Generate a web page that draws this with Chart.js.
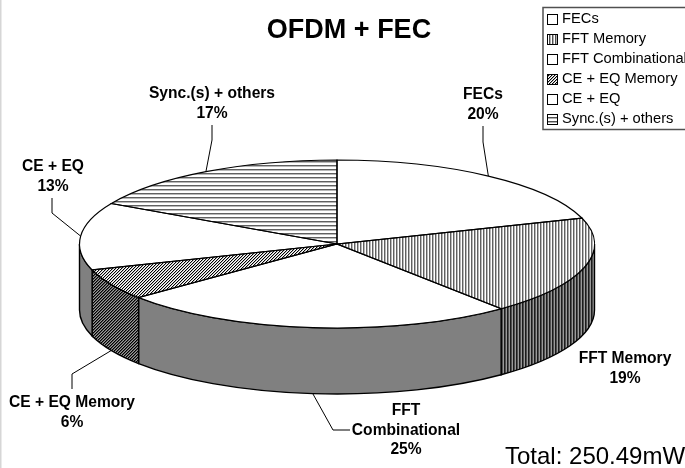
<!DOCTYPE html>
<html>
<head>
<meta charset="utf-8">
<title>OFDM + FEC</title>
<script src="https://cdn.jsdelivr.net/npm/chart.js@4/dist/chart.umd.min.js"></script>
<style>
    html, body { margin: 0; padding: 0; background: #fff; }
    #wrap { position: relative; width: 685px; height: 468px; }
</style>
</head>
<body>
<div id="wrap"><canvas id="myChart" width="685" height="468"></canvas></div>
<script>
const categorias = ["FECs", "FFT Memory", "FFT Combinational", "CE + EQ Memory", "CE + EQ", "Sync.(s) + others"];
const valores = [20, 19, 25, 6, 13, 17];
const tramas = ["none", "vertical", "none", "diagonal", "none", "horizontal"];

// text blocks around the pie: x, y of each label, and the elbow of its leader line
const etiquetas = [
    { lineas: ["FECs"], x: 483, y: 95, codo: [[483, 126], [483, 142]] },
    { lineas: ["FFT Memory"], x: 625, y: 359 },
    { lineas: ["FFT", "Combinational"], x: 406, y: 411, codo: [[350, 430], [333, 430]] },
    { lineas: ["CE + EQ Memory"], x: 72, y: 403, codo: [[72, 389], [72, 374]] },
    { lineas: ["CE + EQ"], x: 53, y: 167, codo: [[52, 198], [52, 213]] },
    { lineas: ["Sync.(s) + others"], x: 212, y: 94, codo: [[212, 125], [212, 140]] }
];

const W = 685, H = 468;
const cx = 337, cy = 244;
const radio = 257.5;
const aplastado = 84 / radio;
const alto = 66;

function crearTrama(tipo, fondo, tinta, tinta2) {
    const t = document.createElement("canvas");
    const c = t.getContext("2d");
    let lado = 3;
    if (tipo === "horizontal") lado = 4;
    t.width = lado;
    t.height = lado;
    c.fillStyle = fondo;
    c.fillRect(0, 0, lado, lado);
    c.fillStyle = tinta;
    if (tipo === "vertical") {
        c.fillRect(0, 0, 1, lado);
        c.fillStyle = tinta2;
        c.fillRect(1, 0, 1, lado);
    } else if (tipo === "horizontal") {
        c.fillRect(0, 1, lado, 1);
        c.fillStyle = tinta2;
        c.fillRect(0, 2, lado, 1);
    } else if (tipo === "diagonal") {
        c.fillStyle = "#000";
        c.fillRect(0, 2, 1, 1);
        c.fillRect(1, 1, 1, 1);
        c.fillRect(2, 0, 1, 1);
        c.fillStyle = tinta2;
        c.fillRect(0, 0, 1, 1);
        c.fillRect(1, 2, 1, 1);
        c.fillRect(2, 1, 1, 1);
    }
    return c.createPattern(t, "repeat");
}

function rellenoTapa(tipo) {
    if (tipo === "none") return "#ffffff";
    const p = crearTrama(tipo, "#ffffff", "#606060", "#b8b8b8");
    // undo the flattening so the hatch stays crisp on the page
    p.setTransform(new DOMMatrix().translate(cx, cy).scale(1, 1 / aplastado).translate(-cx, -cy));
    return p;
}

function rellenoLado(tipo) {
    if (tipo === "none") return "#808080";
    return crearTrama(tipo, "#9a9a9a", "#1c1c1c", "#505050");
}

function rellenoLeyenda(tipo) {
    if (tipo === "none") return "#ffffff";
    return crearTrama(tipo, "#ffffff", "#505050", "#b0b0b0");
}

const pie3d = {
    id: "pie3d",
    beforeDraw(chart) {
        const ctx = chart.ctx;
        ctx.fillStyle = "#d6d6d6";
        ctx.fillRect(0, 0, 1.5, H);
    },
    beforeDatasetsDraw(chart) {
        const ctx = chart.ctx;
        const arcos = chart.getDatasetMeta(0).data;
        // wall under the front half of the pie
        arcos.forEach((arco, i) => {
            const a1 = Math.max(arco.startAngle, 0);
            const a2 = Math.min(arco.endAngle, Math.PI);
            if (a2 <= a1) return;
            ctx.beginPath();
            ctx.ellipse(cx, cy, radio, radio * aplastado, 0, a1, a2);
            ctx.ellipse(cx, cy + alto, radio, radio * aplastado, 0, a2, a1, true);
            ctx.closePath();
            ctx.fillStyle = rellenoLado(tramas[i]);
            ctx.fill();
            ctx.strokeStyle = "#000";
            ctx.lineWidth = 1.4;
            ctx.stroke();
        });
        ctx.save();
        ctx.translate(cx, cy);
        ctx.scale(1, aplastado);
        ctx.translate(-cx, -cy);
    },
    afterDatasetsDraw(chart) {
        const ctx = chart.ctx;
        ctx.restore();
        const arcos = chart.getDatasetMeta(0).data;
        ctx.strokeStyle = "#000";
        ctx.lineWidth = 1.2;
        arcos.forEach((arco) => {
            ctx.beginPath();
            ctx.moveTo(cx, cy);
            ctx.ellipse(cx, cy, radio, radio * aplastado, 0, arco.startAngle, arco.endAngle);
            ctx.closePath();
            ctx.stroke();
        });
        dibujarEtiquetas(ctx, arcos);
        dibujarLeyenda(ctx);
        ctx.fillStyle = "#000";
        ctx.textAlign = "center";
        ctx.textBaseline = "middle";
        ctx.font = "bold 27px 'Liberation Sans'";
        ctx.fillText("OFDM + FEC", 349, 31);
        ctx.textAlign = "left";
        ctx.font = "24px 'Liberation Sans'";
        ctx.fillText("Total: 250.49mW", 505, 457);
    }
};

function dibujarEtiquetas(ctx, arcos) {
    ctx.fillStyle = "#000";
    ctx.textAlign = "center";
    ctx.textBaseline = "middle";
    ctx.font = "bold 15.6px 'Liberation Sans'";
    etiquetas.forEach((e, i) => {
        const lineas = e.lineas.concat(valores[i] + "%");
        lineas.forEach((texto, n) => ctx.fillText(texto, e.x, e.y + n * 19.2));
        if (!e.codo) return;
        const arco = arcos[i];
        const medio = (arco.startAngle + arco.endAngle) / 2;
        const ax = cx + radio * Math.cos(medio);
        let ay = cy + radio * aplastado * Math.sin(medio);
        if (Math.sin(medio) > 0.05) ay += alto;
        ctx.beginPath();
        ctx.moveTo(e.codo[0][0], e.codo[0][1]);
        ctx.lineTo(e.codo[1][0], e.codo[1][1]);
        ctx.lineTo(ax, ay);
        ctx.strokeStyle = "#000";
        ctx.lineWidth = 1;
        ctx.stroke();
    });
}

function dibujarLeyenda(ctx) {
    ctx.fillStyle = "#fff";
    ctx.fillRect(543, 7.5, W - 543, 122);
    ctx.strokeStyle = "#505050";
    ctx.lineWidth = 1.5;
    ctx.strokeRect(543, 7.5, W - 543 + 4, 122);
    ctx.textAlign = "left";
    ctx.textBaseline = "middle";
    ctx.font = "14.7px 'Liberation Sans'";
    categorias.forEach((nombre, i) => {
        const y = 19 + i * 20;
        ctx.fillStyle = rellenoLeyenda(tramas[i]);
        ctx.fillRect(547.5, y - 4.5, 10, 10);
        ctx.strokeStyle = "#000";
        ctx.lineWidth = 1;
        ctx.strokeRect(547.5, y - 4.5, 10, 10);
        ctx.fillStyle = "#000";
        ctx.fillText(nombre, 562, y);
    });
}

const config = {
    type: "pie",
    data: {
        labels: categorias,
        datasets: [{
            data: valores,
            backgroundColor: tramas.map(rellenoTapa),
            borderWidth: 0,
            clip: false
        }]
    },
    options: {
        responsive: false,
        animation: false,
        radius: radio,
        layout: { padding: { left: 0, right: W - 2 * cx, top: 2 * cy - H, bottom: 0 } },
        plugins: { legend: { display: false }, tooltip: { enabled: false }, title: { display: false } }
    },
    plugins: [pie3d]
};

new Chart(document.getElementById("myChart"), config);
</script>
</body>
</html>
